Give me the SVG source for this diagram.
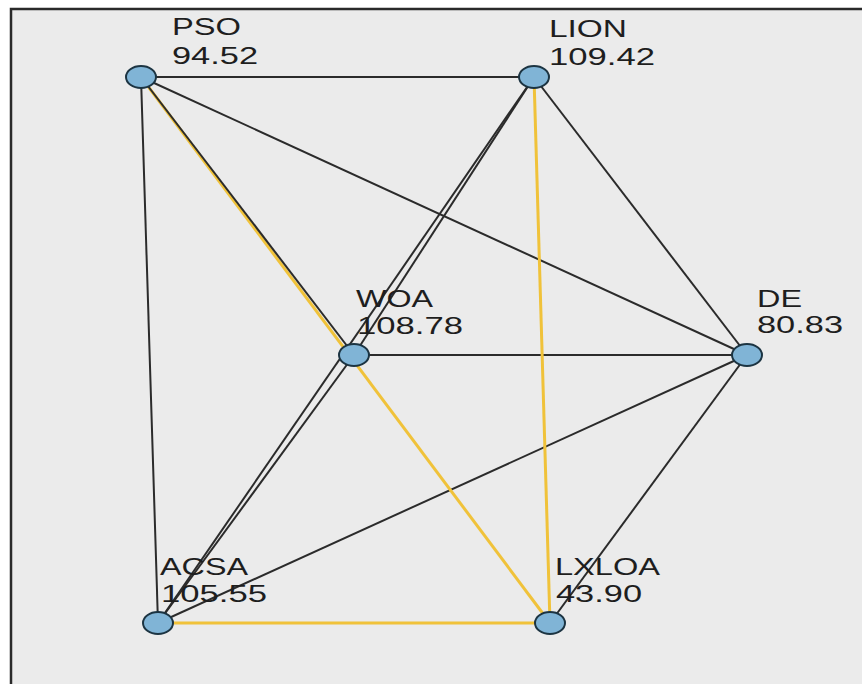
<svg xmlns="http://www.w3.org/2000/svg" width="862" height="684" viewBox="0 0 862 684">
<style>
.bg{fill:#ebebeb;stroke:none}
.frame{fill:none;stroke:#2a2a2a;stroke-width:2.5}
.e{stroke:#2b2b2b;stroke-width:2;fill:none}
.y{stroke:#f0c23a;stroke-width:3;fill:none}
.n{fill:#80b4d6;stroke:#1c3442;stroke-width:2}
.t{font-family:"Liberation Sans",Arial,sans-serif;font-size:23px;fill:#1e1e1e}
</style>
<rect x="0" y="0" width="862" height="684" fill="#ffffff"/>
<rect class="bg" x="11" y="9" width="851" height="675"/>
<path class="frame" d="M11,684 V9 H862"/>
<g id="connectors">
<line class="e" x1="141" y1="77" x2="534" y2="77"/>
<line class="e" x1="141" y1="77" x2="747" y2="355"/>
<line class="e" x1="141" y1="77" x2="158" y2="623"/>
<line class="e" x1="534" y1="77" x2="747" y2="355"/>
<line class="e" x1="534" y1="77" x2="354" y2="355"/>
<line class="e" x1="534" y1="77" x2="158" y2="623"/>
<line class="e" x1="354" y1="355" x2="747" y2="355"/>
<line class="e" x1="354" y1="355" x2="158" y2="623"/>
<line class="e" x1="747" y1="355" x2="158" y2="623"/>
<line class="e" x1="747" y1="355" x2="550" y2="623"/>
<line class="y" x1="141" y1="77" x2="550" y2="623"/>
<line class="y" x1="534" y1="77" x2="550" y2="623"/>
<line class="y" x1="158" y1="623" x2="550" y2="623"/>
<line class="e" x1="141" y1="77" x2="354" y2="355"/>
</g>
<g id="PSO">
<ellipse class="n" cx="141" cy="77" rx="15" ry="11"/>
<text class="t" x="172" y="35" textLength="69" lengthAdjust="spacingAndGlyphs">PSO</text>
<text class="t" x="172" y="64" textLength="86" lengthAdjust="spacingAndGlyphs">94.52</text>
</g>
<g id="LION">
<ellipse class="n" cx="534" cy="77" rx="15" ry="11"/>
<text class="t" x="549" y="37" textLength="78" lengthAdjust="spacingAndGlyphs">LION</text>
<text class="t" x="549" y="65" textLength="106" lengthAdjust="spacingAndGlyphs">109.42</text>
</g>
<g id="WOA">
<ellipse class="n" cx="354" cy="355" rx="15" ry="11"/>
<text class="t" x="356" y="307" textLength="77" lengthAdjust="spacingAndGlyphs">WOA</text>
<text class="t" x="357" y="334" textLength="106" lengthAdjust="spacingAndGlyphs">108.78</text>
</g>
<g id="DE">
<ellipse class="n" cx="747" cy="355" rx="15" ry="11"/>
<text class="t" x="757" y="307" textLength="45" lengthAdjust="spacingAndGlyphs">DE</text>
<text class="t" x="757" y="333" textLength="86" lengthAdjust="spacingAndGlyphs">80.83</text>
</g>
<g id="ACSA">
<ellipse class="n" cx="158" cy="623" rx="15" ry="11"/>
<text class="t" x="160" y="575" textLength="88" lengthAdjust="spacingAndGlyphs">ACSA</text>
<text class="t" x="161" y="602" textLength="106" lengthAdjust="spacingAndGlyphs">105.55</text>
</g>
<g id="LXLOA">
<ellipse class="n" cx="550" cy="623" rx="15" ry="11"/>
<text class="t" x="555" y="575" textLength="105" lengthAdjust="spacingAndGlyphs">LXLOA</text>
<text class="t" x="556" y="602" textLength="86" lengthAdjust="spacingAndGlyphs">43.90</text>
</g>
</svg>
